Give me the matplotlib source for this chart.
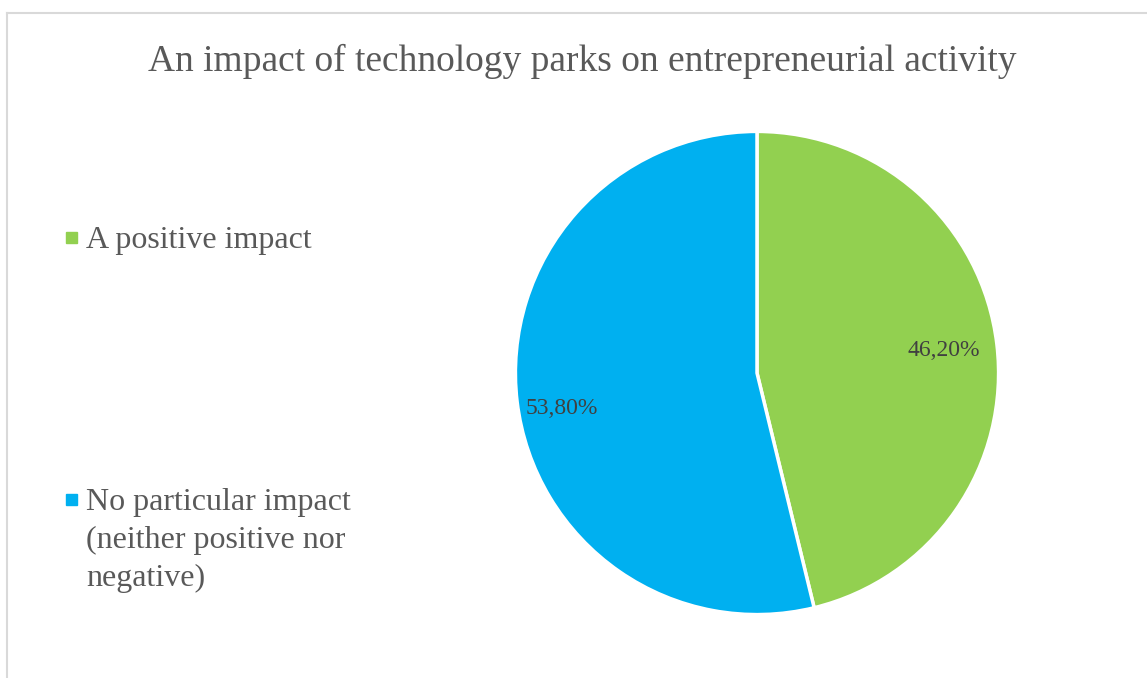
import matplotlib
matplotlib.use("Agg")
import numpy as np
import matplotlib.pyplot as plt
from matplotlib.patches import Rectangle
from matplotlib.lines import Line2D

categories = ["A positive impact", "No particular impact\n(neither positive nor\nnegative)"]
values = [46.2, 53.8]
colors = ["#92D050", "#00B0F0"]
title = "An impact of technology parks on entrepreneurial activity"

W, H = 1147, 678
fig = plt.figure(figsize=(W / 100, H / 100), dpi=100)
plt.rcParams["font.family"] = ["Liberation Serif", "DejaVu Serif"]

# chart frame (light grey border at top and left)
fig.add_artist(Line2D([7 / W, 7 / W], [0, 1 - 13 / H], color="#D9D9D9", lw=1.5))
fig.add_artist(Line2D([7 / W, 1], [1 - 13 / H, 1 - 13 / H], color="#D9D9D9", lw=1.5))

# pie axes: center (757, 373), radius 244 px
cx, cy, r = 757, 373, 244
ax = fig.add_axes([(cx - r) / W, 1 - (cy + r) / H, 2 * r / W, 2 * r / H])
wedges, texts, autotexts = ax.pie(
    values, colors=colors, startangle=90, counterclock=False,
    autopct=lambda p: f"{p:.2f}%".replace(".", ","), pctdistance=0.8,
    wedgeprops=dict(edgecolor="white", linewidth=2.5),
    textprops=dict(color="#404040", fontsize=17),
)
# Excel-like label placement: per-slice distance and small angular nudge
for w, t, dist, nudge in zip(wedges, autotexts, [0.78, 0.82], [0, 3.5]):
    ang = np.deg2rad((w.theta1 + w.theta2) / 2 + nudge)
    t.set_position((dist * np.cos(ang), dist * np.sin(ang)))
ax.set_xlim(-1.01, 1.01)
ax.set_ylim(-1.01, 1.01)
ax.axis("off")

fig.text(582 / W, 1 - 61 / H, title, ha="center", va="center",
         fontsize=27, color="#595959")

# legend
leg_y = [238, 500]
for lab, col, y in zip(categories, colors, leg_y):
    fig.add_artist(Rectangle((66 / W, 1 - (y + 5) / H), 11 / W, 11 / H,
                             transform=fig.transFigure, color=col))
    fig.text(86 / W, 1 - (y - 12) / H, lab, ha="left", va="top",
             fontsize=23, color="#595959", linespacing=1.4)

fig.savefig("out.png", dpi=100)
